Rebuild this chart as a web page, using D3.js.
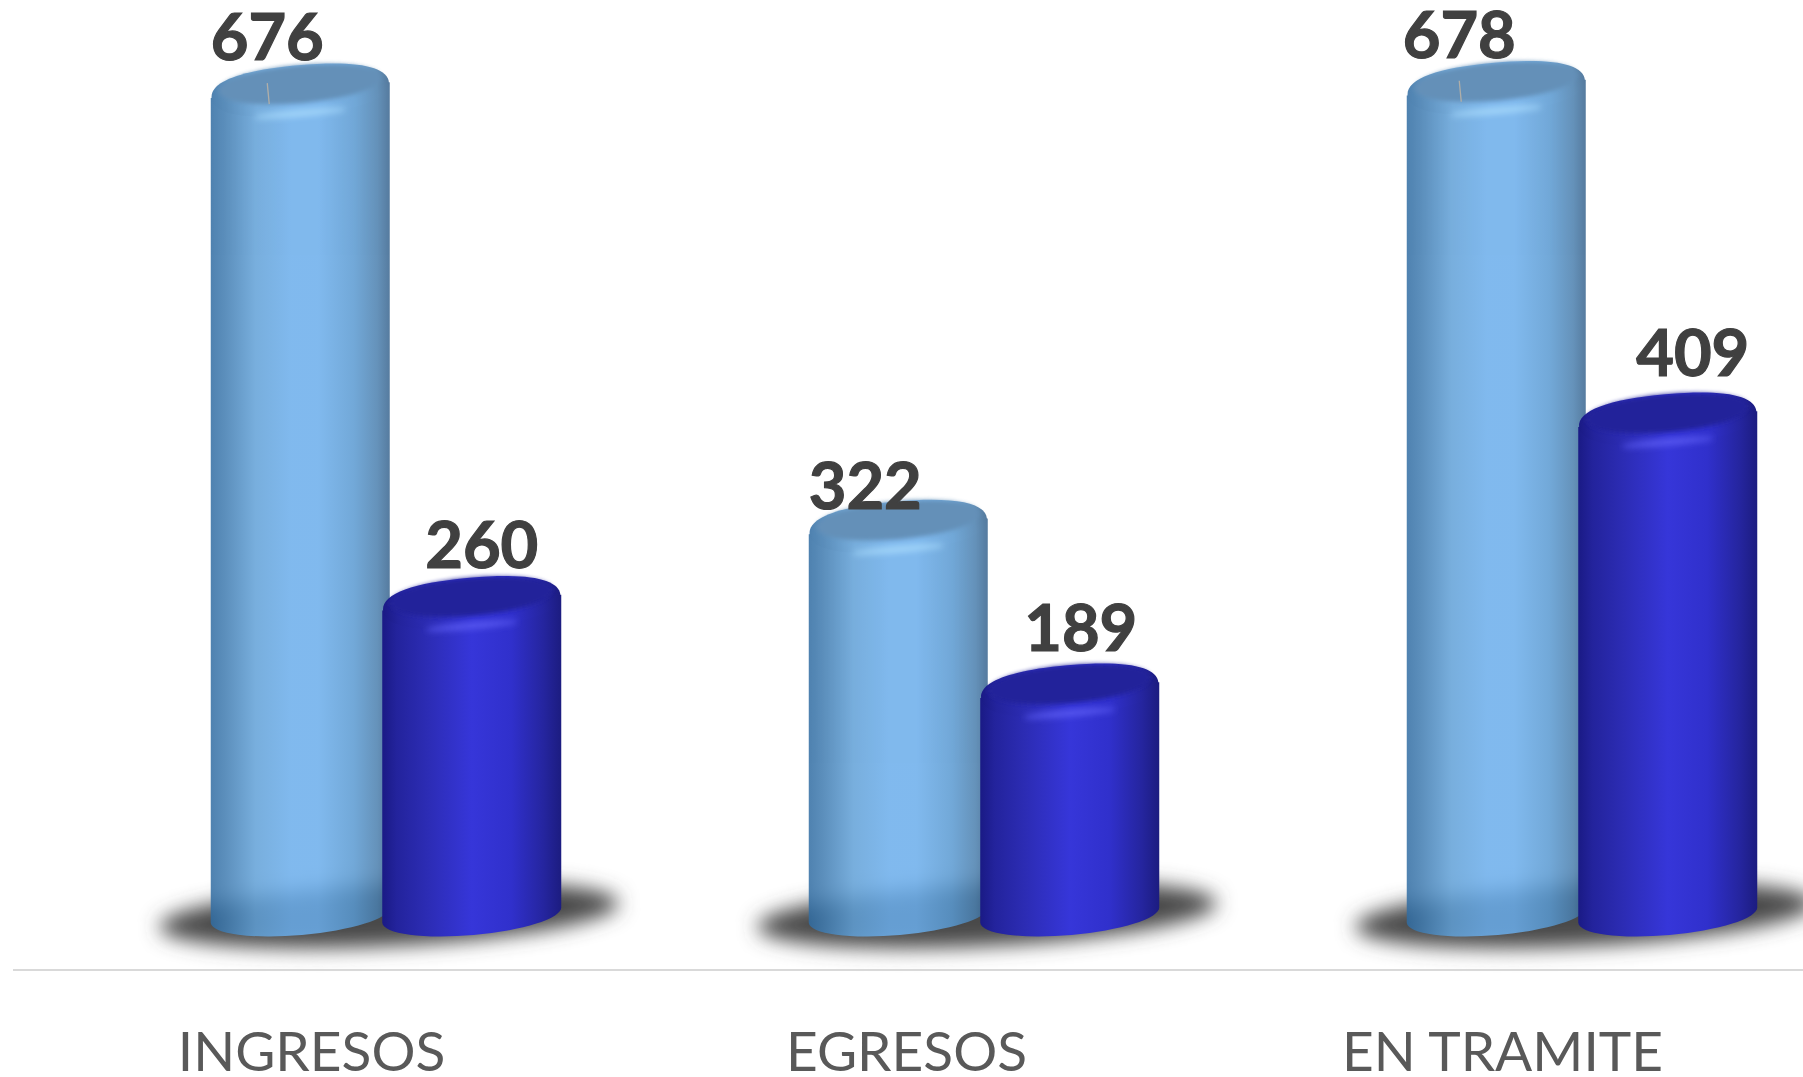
<!DOCTYPE html>
<html><head><meta charset="utf-8">
<script src="https://cdn.jsdelivr.net/npm/d3@7/dist/d3.min.js"></script>
<style>html,body{margin:0;padding:0;background:#fff;overflow:hidden}svg{display:block}</style>
</head><body><div id="chart"></div>
<script>
const categories = ["INGRESOS", "EGRESOS", "EN TRAMITE"];
const seriesNames = ["A", "B"];
const seriesA = [676, 322, 678];
const seriesB = [260, 189, 409];

// label placement relative to each cylinder's top centre (layout, not data)
const labelDxA = [-33, -33, -37], labelDyA = [-30, -17, -30];
const labelDxB = [10, 11, 25],    labelDyB = [-35, -39, -43];
const leaderA = [true, false, true];
const axisNudge = [0, -3, -5];

const W = 1803, H = 1077, axisY = 970, baseCy = 915;
const svg = d3.select("#chart").append("svg").attr("width", W).attr("height", H);
const defs = svg.append("defs");

const x0 = d3.scaleBand().domain(categories).range([86.5, 86.5 + 598 * 3]);
const x1 = d3.scaleBand().domain(seriesNames).range([128, 471]);
const y = d3.scaleLinear().domain([0, 700]).range([923, 60.6]);

const barW = x1.bandwidth() + 7.5, rx = barW / 2, tilt = -5;
const dy = rx * Math.tan(-tilt * Math.PI / 180);
const ryBase = 20, ryTop = 25;

const palettes = {
  A: {id:"gA", stops:[[0,"#306ca2"],[.08,"#3f7bb0"],[.25,"#60a0d7"],[.45,"#6aadeb"],[.6,"#6aadeb"],[.8,"#5999d1"],[.93,"#4a7fae"],[1,"#38648e"]],
      inner:"#497dac", hi:"#95d1fa", opacity:.85},
  B: {id:"gB", stops:[[0,"#1a1a85"],[.08,"#23239c"],[.25,"#2c2cb4"],[.5,"#3636d9"],[.72,"#3030cc"],[.9,"#25259f"],[1,"#1c1c80"]],
      inner:"#23239a", hi:"#5a5af2", opacity:1}
};
Object.values(palettes).forEach(p => {
  const g = defs.append("linearGradient").attr("id", p.id);
  p.stops.forEach(s => g.append("stop").attr("offset", s[0]).attr("stop-color", s[1]));
});
[["blurShadow",10],["blurHi",3],["blurInner",2]].forEach(([id,sd]) =>
  defs.append("filter").attr("id", id).attr("x","-30%").attr("y","-100%").attr("width","160%").attr("height","300%")
    .append("feGaussianBlur").attr("stdDeviation", sd));

function bodyPath(cx, topCy) {
  return `M${cx-rx},${topCy+dy} L${cx-rx},${baseCy+dy}` +
    ` A${rx},${ryBase} ${tilt} 0 0 ${cx+rx},${baseCy-dy}` +
    ` L${cx+rx},${topCy-dy} Z`;
}
// rounded cap, giving the bevelled shoulders of the cylinder top
function capPath(a, b) {
  const k = 0.65;
  return `M${-a},0 C${-a},${-k*b} ${-k*a},${-b} 0,${-b} C${k*a},${-b} ${a},${-k*b} ${a},0` +
         ` C${a},${k*b} ${k*a},${b} 0,${b} C${-k*a},${b} ${-a},${k*b} ${-a},0 Z`;
}

const groups = svg.selectAll("g.group").data(categories).join("g")
  .attr("class","group").attr("transform", d => `translate(${x0(d)},0)`);

// blurred floor shadows
groups.each(function() {
  const g = d3.select(this);
  const cx = x1("A") + x1.bandwidth() + 3;
  g.append("ellipse").attr("cx", cx).attr("cy", 915).attr("rx", 230).attr("ry", 31)
    .attr("transform", `rotate(-3 ${cx} 915)`)
    .attr("fill", "#4a4a4a").attr("filter", "url(#blurShadow)");
});

function drawCylinder(g, name, value) {
  const p = palettes[name];
  const cx = x1(name) + x1.bandwidth() / 2, cy = y(value);
  const c = g.append("g").attr("opacity", p.opacity);
  c.append("path").attr("d", bodyPath(cx, cy)).attr("fill", `url(#${p.id})`);
  const t = `translate(${cx},${cy}) rotate(${tilt})`;
  c.append("path").attr("d", capPath(rx - 0.5, ryTop)).attr("transform", t).attr("fill", `url(#${p.id})`);
  c.append("ellipse").attr("cx", -2).attr("cy", 23).attr("rx", 46).attr("ry", 3)
    .attr("transform", t).attr("fill", p.hi).attr("filter", "url(#blurHi)");
  c.append("ellipse").attr("cx", 0).attr("cy", -6).attr("rx", rx - 8).attr("ry", ryTop - 6)
    .attr("transform", t).attr("fill", p.inner).attr("filter", "url(#blurInner)");
}

groups.each(function(cat, i) {
  const g = d3.select(this);
  drawCylinder(g, "A", seriesA[i]);
  drawCylinder(g, "B", seriesB[i]);
});

// leader ticks
groups.filter((d,i) => leaderA[i]).each(function(cat) {
  const i = categories.indexOf(cat);
  const lx = x1("A") + x1.bandwidth() / 2 + labelDxA[i], ly = y(seriesA[i]);
  d3.select(this).append("line").attr("x1", lx).attr("y1", ly - 7).attr("x2", lx + 2).attr("y2", ly + 14)
    .attr("stroke", "#b0aea8").attr("stroke-width", 1.3);
});

// value labels
groups.each(function(cat, i) {
  const g = d3.select(this);
  [["A", seriesA, labelDxA, labelDyA], ["B", seriesB, labelDxB, labelDyB]].forEach(([n, vals, dxs, dys]) => {
    g.append("text").attr("x", x1(n) + x1.bandwidth() / 2 + dxs[i]).attr("y", y(vals[i]) + dys[i])
      .attr("text-anchor", "middle").attr("font-family", "Lato, sans-serif").attr("font-weight", 700)
      .attr("font-size", 65).attr("fill", "#404040")
      .attr("stroke", "#404040").attr("stroke-width", 1.2).text(vals[i]);
  });
});

// baseline and category axis
svg.append("line").attr("x1", 13).attr("x2", W).attr("y1", axisY).attr("y2", axisY)
  .attr("stroke", "#d9d9d9").attr("stroke-width", 2);
const axis = svg.append("g").attr("transform", `translate(-74,${axisY})`)
  .call(d3.axisBottom(x0).tickSize(0).tickPadding(62));
axis.select(".domain").remove();
axis.selectAll("text").attr("font-family", "Lato, sans-serif").attr("font-size", 55).attr("fill", "#595959")
  .attr("dx", (d, i) => axisNudge[i]);
</script></body></html>
